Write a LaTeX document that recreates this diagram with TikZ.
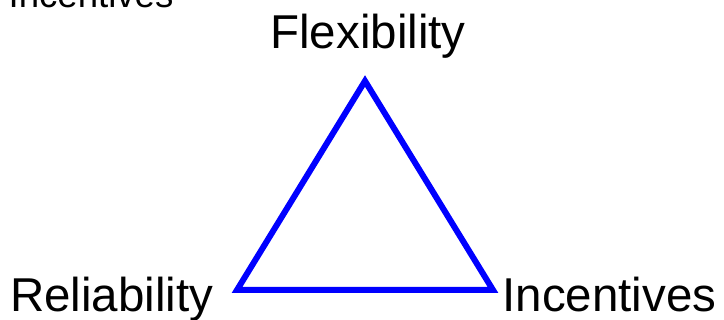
\documentclass[tikz,border=0pt]{standalone}
\usepackage{fontspec}
\setmainfont{Liberation Sans}
\begin{document}
\begin{tikzpicture}[x=1pt,y=1pt,
  lbl/.style={inner sep=0pt,outer sep=0pt,font=\fontsize{47.5}{47.5}\selectfont},
  smalllbl/.style={inner sep=0pt,outer sep=0pt,font=\fontsize{36.6}{36.6}\selectfont},
  tri/.style={draw=blue,line width=6pt,line join=miter}]
\useasboundingbox (0,0) rectangle (724,320);
\node[smalllbl,anchor=base west] (cut) at (8.6,312.7) {Incentives};
\node[lbl,anchor=base] (flex) at (368,271.7) {Flexibility};
\node[lbl,anchor=base west] (rel) at (10.2,8.3) {Reliability};
\node[lbl,anchor=base west] (inc) at (502.5,8.3) {Incentives};
\coordinate (top) at (365,239);
\coordinate (bl) at (237,30);
\coordinate (br) at (493,30);
\draw[tri] (top) -- (bl) -- (br) -- cycle;
\end{tikzpicture}
\end{document}
